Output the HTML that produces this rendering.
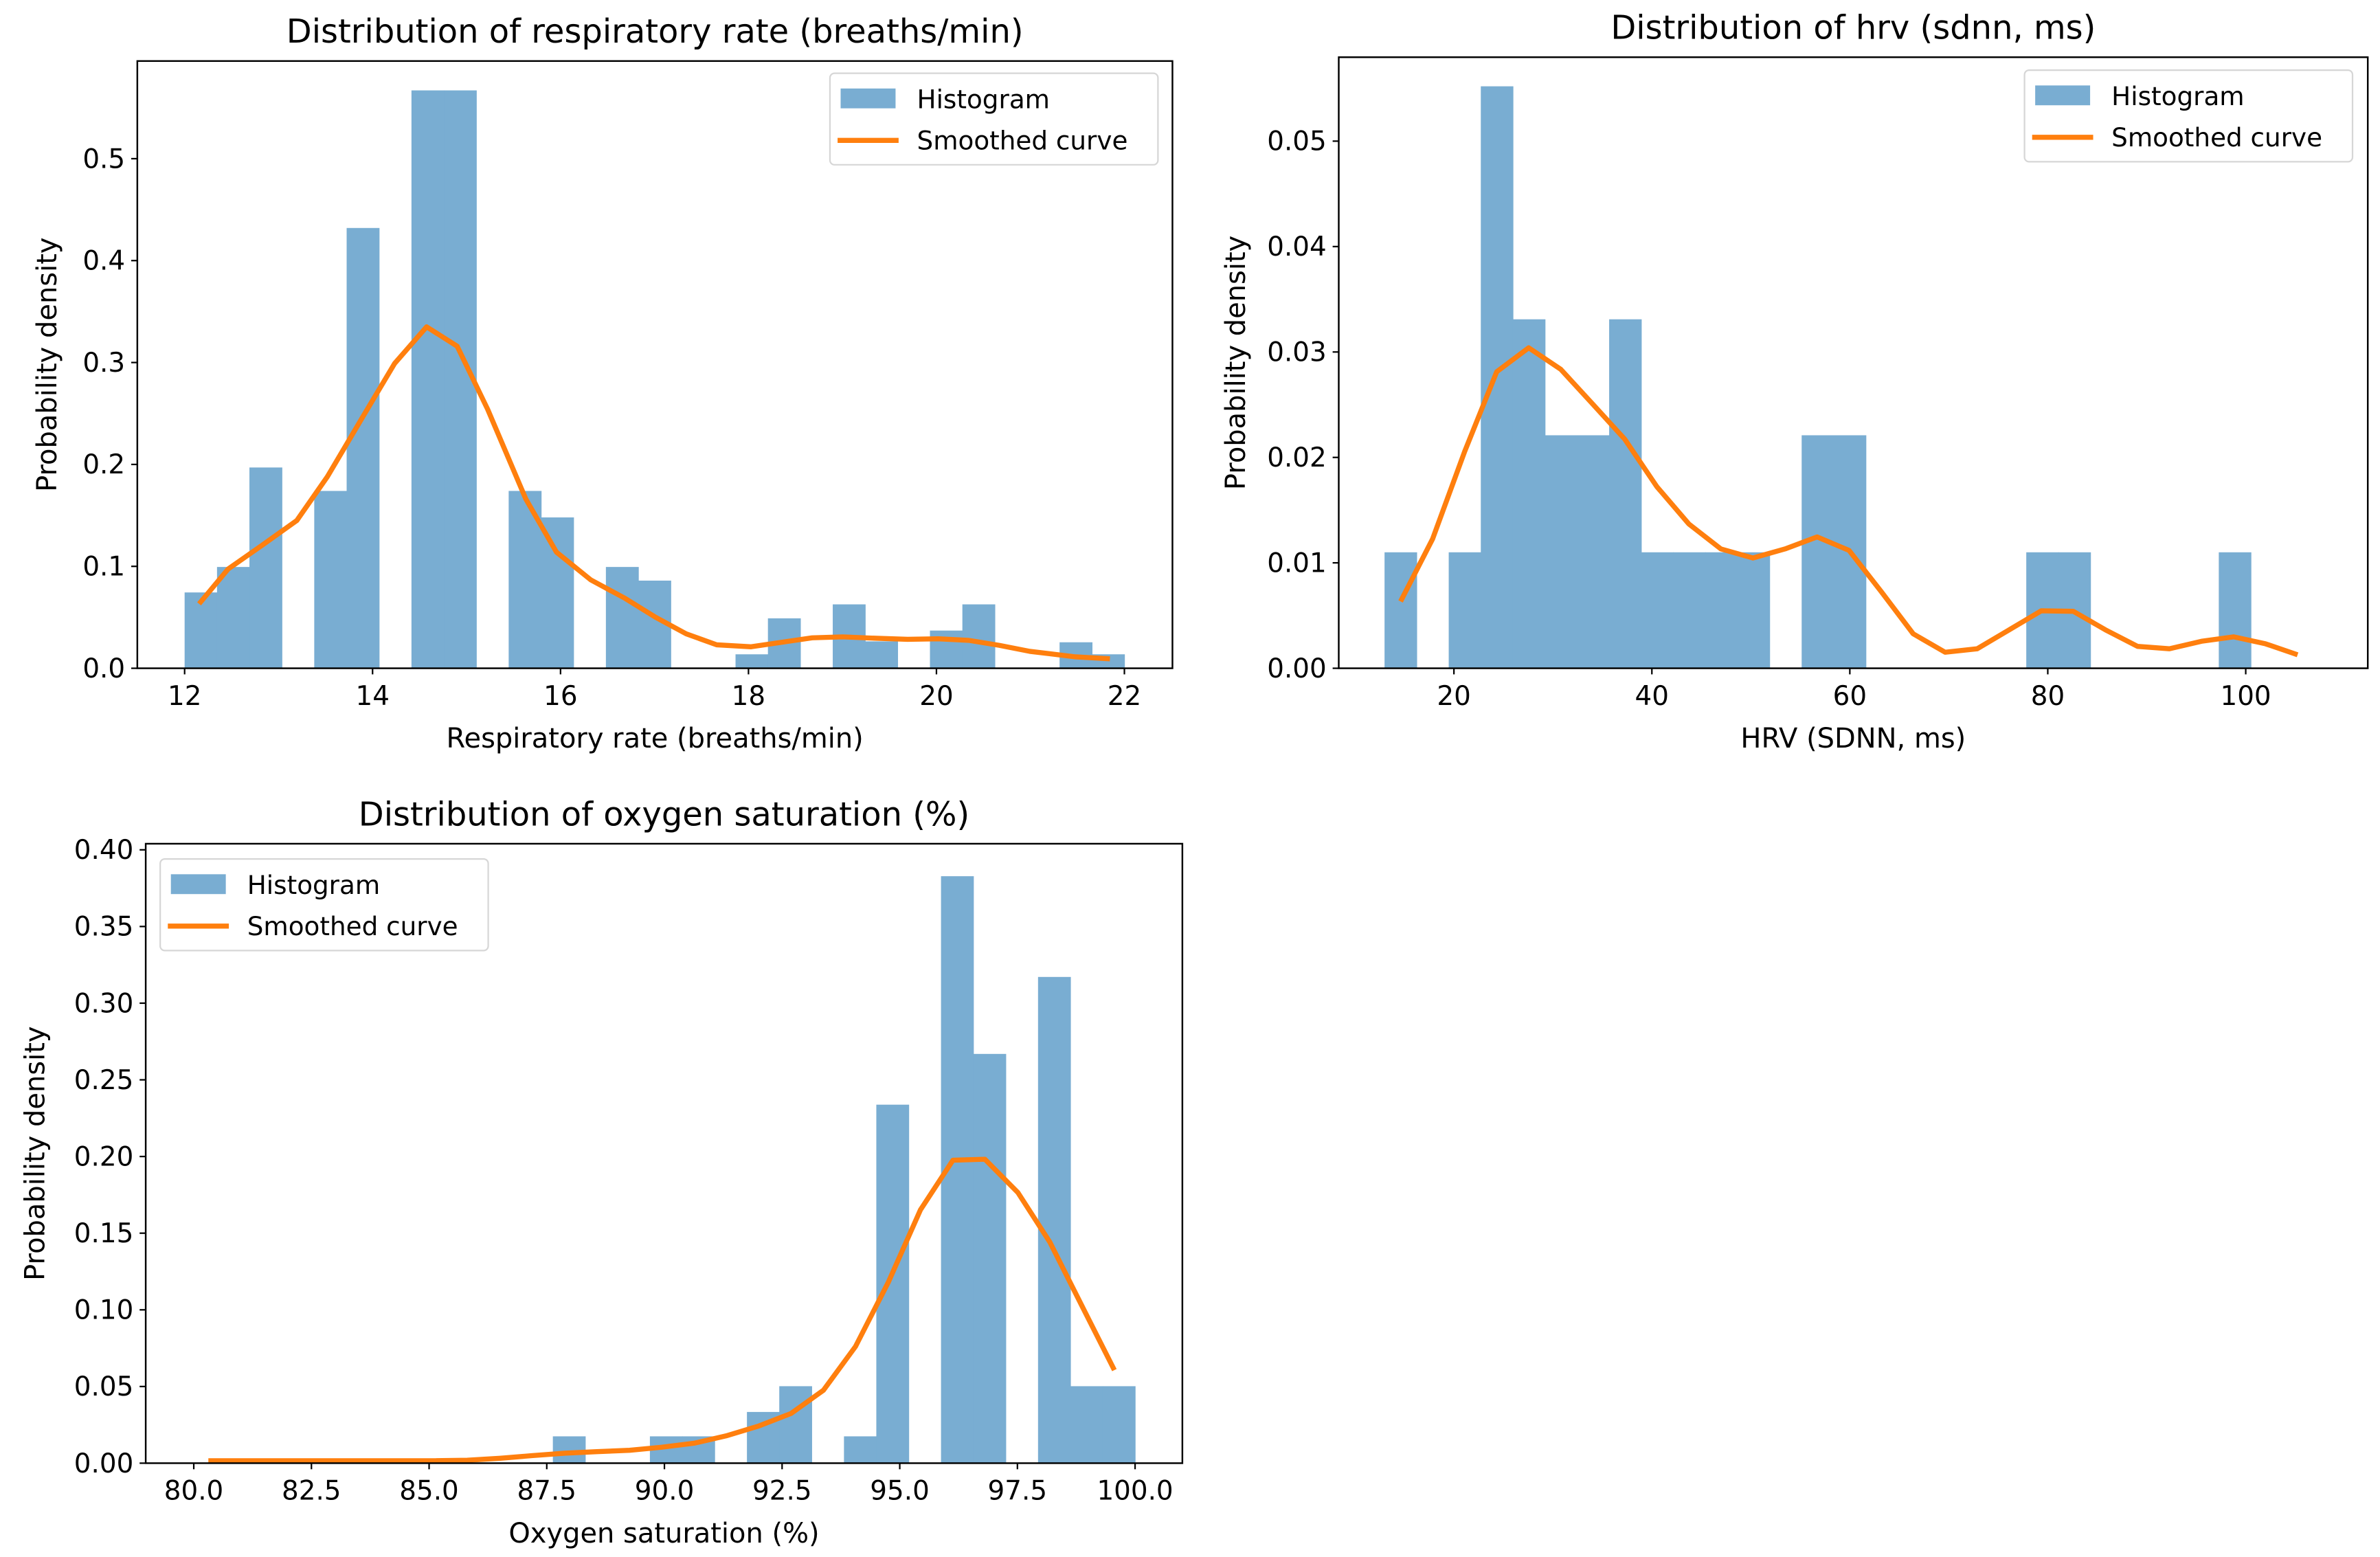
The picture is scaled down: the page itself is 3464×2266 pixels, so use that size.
<!DOCTYPE html>
<html><head><meta charset="utf-8"><style>
html,body{margin:0;padding:0;background:#fff;}
svg{display:block;font-family:"DejaVu Sans","Liberation Sans",sans-serif;}
</style></head><body>
<svg id="fig" width="3464" height="2266" viewBox="0 0 1560 1020.5" xmlns="http://www.w3.org/2000/svg">
<rect x="0" y="0" width="1560" height="1020.5" fill="#fff"/>
</svg>
<script>
// ---- Chart 1: respiratory rate ----
const rrBinStart = 12.0;
const rrBinEnd = 22.0;
const rrDensity = [0.0744,0.0994,0.197,0,0.174,0.432,0,0.567,0.567,0,0.174,0.148,0,0.0994,0.086,0,0,0.0137,0.049,0,0.0627,0.0264,0,0.037,0.0627,0,0,0.0255,0.0137];
const rrCurveX = [12.154,12.463,12.829,13.194,13.519,13.885,14.234,14.575,14.900,15.225,15.631,15.956,16.322,16.687,17.012,17.337,17.662,18.028,18.353,18.678,19.003,19.368,19.693,20.018,20.343,20.668,20.993,21.480,21.846];
const rrCurveY = [0.0632,0.0974,0.121,0.145,0.188,0.245,0.299,0.335,0.316,0.254,0.166,0.114,0.0867,0.0686,0.0500,0.0338,0.0230,0.0211,0.0255,0.0299,0.0308,0.0294,0.0284,0.0289,0.0274,0.0225,0.0166,0.0112,0.0093];
const rrXTicks = [12,14,16,18,20,22];
const rrXTickLabels = ["12","14","16","18","20","22"];
const rrYTicks = [0,0.1,0.2,0.3,0.4,0.5];
const rrYTickLabels = ["0.0","0.1","0.2","0.3","0.4","0.5"];

// ---- Chart 2: HRV ----
const hrvBinStart = 12.99;
const hrvBinEnd = 100.52;
const hrvDensity = [0.0110,0,0.0110,0.0552,0.0331,0.0221,0.0221,0.0331,0.0110,0.0110,0.0110,0.0110,0,0.0221,0.0221,0,0,0,0,0,0.0110,0.0110,0,0,0,0,0.0110];
const hrvCurveX = [14.61,17.84,21.08,24.32,27.55,30.79,34.03,37.26,40.50,43.74,46.97,50.21,53.45,56.69,59.92,63.16,66.40,69.63,72.87,76.11,79.34,82.58,85.82,89.06,92.29,95.53,98.77,102.0,105.24];
const hrvCurveY = [0.00634,0.01226,0.02055,0.02812,0.03040,0.02836,0.02505,0.02173,0.01723,0.01368,0.01132,0.01046,0.01132,0.01246,0.01118,0.00729,0.00327,0.00152,0.00185,0.00365,0.00545,0.00540,0.00365,0.00208,0.00185,0.00256,0.00298,0.00232,0.00128];
const hrvXTicks = [20,40,60,80,100];
const hrvXTickLabels = ["20","40","60","80","100"];
const hrvYTicks = [0,0.01,0.02,0.03,0.04,0.05];
const hrvYTickLabels = ["0.00","0.01","0.02","0.03","0.04","0.05"];

// ---- Chart 3: oxygen saturation ----
const spoBinStart = 80.07;
const spoBinEnd = 100.0;
const spoDensity = [0,0,0,0,0,0,0,0,0,0,0,0.0175,0,0,0.0175,0.0175,0,0.0334,0.0502,0,0.0175,0.2338,0,0.3828,0.2669,0,0.3171,0.0502,0.0502];
const spoCurveX = [80.31,81.00,81.68,82.38,83.06,83.75,84.43,85.13,85.81,86.51,87.18,87.88,88.56,89.26,89.94,90.63,91.31,92.01,92.69,93.38,94.06,94.76,95.44,96.13,96.81,97.51,98.19,98.88,99.56];
const spoCurveY = [0.0016,0.0016,0.0016,0.0016,0.0016,0.0016,0.0016,0.0016,0.0019,0.0032,0.0049,0.0065,0.0075,0.0084,0.0104,0.0130,0.0178,0.0243,0.0324,0.0476,0.0761,0.1182,0.1652,0.1976,0.1982,0.1765,0.1441,0.1020,0.0607];
const spoXTicks = [80,82.5,85,87.5,90,92.5,95,97.5,100];
const spoXTickLabels = ["80.0","82.5","85.0","87.5","90.0","92.5","95.0","97.5","100.0"];
const spoYTicks = [0,0.05,0.1,0.15,0.2,0.25,0.3,0.35,0.4];
const spoYTickLabels = ["0.00","0.05","0.10","0.15","0.20","0.25","0.30","0.35","0.40"];

const NS = "http://www.w3.org/2000/svg";
const fig = document.getElementById("fig");
function mk(tag, parent, attrs){
  const e = document.createElementNS(NS, tag);
  for (const k in attrs) e.setAttribute(k, attrs[k]);
  parent.appendChild(e);
  return e;
}

function drawChart(cfg){
  const g = mk("g", fig, {});
  
  
  const L=cfg.box[0], R=cfg.box[1], T=cfg.box[2], B=cfg.box[3];
  const sx = v => cfg.px0 + (v - cfg.vx0) * (cfg.px1 - cfg.px0) / (cfg.vx1 - cfg.vx0);
  const sy = v => cfg.py0 + (v - cfg.vy0) * (cfg.py1 - cfg.py0) / (cfg.vy1 - cfg.vy0);
  const n = cfg.density.length;
  const w = (cfg.binEnd - cfg.binStart) / n;
  for (let i=0;i<n;i++){
    if (cfg.density[i] <= 0) continue;
    const x0 = sx(cfg.binStart + i*w), x1 = sx(cfg.binStart + (i+1)*w);
    const y = sy(cfg.density[i]);
    const r = mk("rect", g, {x:x0, y:y, width:x1-x0+0.3, height:sy(0)-y, fill:"#79add2"});
    
    
  }
  let d = "";
  for (let i=0;i<cfg.cx.length;i++) d += (i?"L":"M") + sx(cfg.cx[i]).toFixed(2) + "," + sy(cfg.cy[i]).toFixed(2);
  const p = mk("path", g, {d:d, fill:"none", stroke:"#ff7f0e", "stroke-width":3.3, "stroke-linejoin":"round", "stroke-linecap":"butt"});
  
  
  const fr = mk("rect", g, {x:L, y:T, width:R-L, height:B-T, fill:"none", stroke:"#000", "stroke-width":1.1});
  
  
  cfg.xt.forEach((v,i)=>{
    const x = sx(v);
    mk("line", g, {x1:x, x2:x, y1:B, y2:B+4, stroke:"#000", "stroke-width":1});
    const t = mk("text", g, {x:x, y:B+24, "font-size":17.5, "text-anchor":"middle", fill:"#000"});
    t.textContent = cfg.xtl[i];
    
    
  });
  cfg.yt.forEach((v,i)=>{
    const y = sy(v);
    mk("line", g, {x1:L-4, x2:L, y1:y, y2:y, stroke:"#000", "stroke-width":1});
    const t = mk("text", g, {x:L-8, y:y+6, "font-size":17.5, "text-anchor":"end", fill:"#000"});
    t.textContent = cfg.ytl[i];
    
    
  });
  const tt = mk("text", g, {x:(L+R)/2, y:T-12, "font-size":21.6, "text-anchor":"middle", fill:"#000"});
  tt.textContent = cfg.title;
  
  
  const xl = mk("text", g, {x:(L+R)/2, y:B+52, "font-size":18, "text-anchor":"middle", fill:"#000"});
  xl.textContent = cfg.xlabel;
  
  
  const yl = mk("text", g, {x:0, y:0, "font-size":18, "text-anchor":"middle", fill:"#000", transform:"translate("+cfg.ylx+","+(T+B)/2+") rotate(-90)"});
  yl.textContent = "Probability density";
  
  
  const lx = cfg.leg[0], ly = cfg.leg[1];
  const lg = mk("g", g, {});
  
  
  mk("rect", lg, {x:lx, y:ly, width:215, height:60, rx:3, fill:"#fff", "fill-opacity":0.8, stroke:"#d6d6d6", "stroke-width":1});
  const sw = mk("rect", lg, {x:lx+7, y:ly+10, width:36, height:13, fill:"#79add2"});
  
  
  const t1 = mk("text", lg, {x:lx+57, y:ly+23, "font-size":16.8, fill:"#000"});
  t1.textContent = "Histogram";
  
  
  mk("line", lg, {x1:lx+5, x2:lx+45, y1:ly+44, y2:ly+44, stroke:"#ff7f0e", "stroke-width":3.3});
  const t2 = mk("text", lg, {x:lx+57, y:ly+50, "font-size":16.8, fill:"#000"});
  t2.textContent = "Smoothed curve";
  
  
}

drawChart({name:"respiratory-rate-chart", box:[90,768.5,40,438],
  px0:121, px1:737, vx0:12, vx1:22, py0:438, py1:104, vy0:0, vy1:0.5,
  binStart:rrBinStart, binEnd:rrBinEnd, density:rrDensity, cx:rrCurveX, cy:rrCurveY,
  xt:rrXTicks, xtl:rrXTickLabels, yt:rrYTicks, ytl:rrYTickLabels,
  title:"Distribution of respiratory rate (breaths/min)", xlabel:"Respiratory rate (breaths/min)",
  ylx:37, leg:[544,48]});

drawChart({name:"hrv-chart", box:[877.5,1552,37.5,438],
  px0:953, px1:1472, vx0:20, vx1:100, py0:438, py1:92.5, vy0:0, vy1:0.05,
  binStart:hrvBinStart, binEnd:hrvBinEnd, density:hrvDensity, cx:hrvCurveX, cy:hrvCurveY,
  xt:hrvXTicks, xtl:hrvXTickLabels, yt:hrvYTicks, ytl:hrvYTickLabels,
  title:"Distribution of hrv (sdnn, ms)", xlabel:"HRV (SDNN, ms)",
  ylx:816, leg:[1327,46]});

drawChart({name:"oxygen-saturation-chart", box:[95.5,775,553,959],
  px0:127, px1:744, vx0:80, vx1:100, py0:959, py1:557, vy0:0, vy1:0.4,
  binStart:spoBinStart, binEnd:spoBinEnd, density:spoDensity, cx:spoCurveX, cy:spoCurveY,
  xt:spoXTicks, xtl:spoXTickLabels, yt:spoYTicks, ytl:spoYTickLabels,
  title:"Distribution of oxygen saturation (%)", xlabel:"Oxygen saturation (%)",
  ylx:29, leg:[105,563]});
</script>
</body></html>
